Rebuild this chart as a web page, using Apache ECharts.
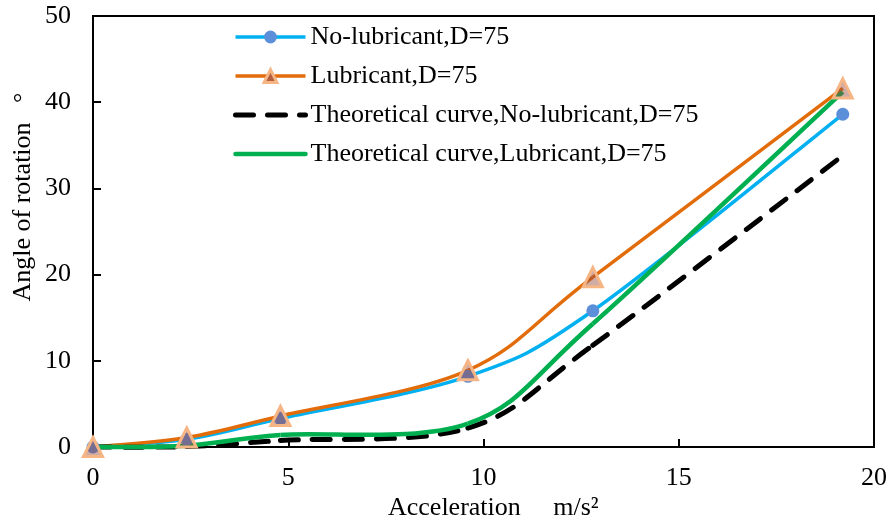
<!DOCTYPE html>
<html>
<head>
<meta charset="utf-8">
<script src="https://cdn.jsdelivr.net/npm/echarts@6/dist/echarts.min.js"></script>
<style>
  html, body { margin: 0; padding: 0; background: #fff; }
  #chart { width: 890px; height: 524px; }
</style>
</head>
<body>
<div id="chart"></div>
<script>
// Acceleration sample points (m/s²)
const acceleration = [0, 2.4, 4.8, 9.6, 12.8, 19.2];

// Measured rotation angles (°)
const noLubricant = [0, 0.9, 3.3, 8.2, 15.8, 38.6];
const lubricant = [0, 1.1, 3.6, 8.9, 19.7, 41.6];

// Theoretical rotation angles (°)
const theoryNoLubricant = [0, 0.05, 0.75, 2.2, 11.8, 33.8];
const theoryLubricant = [0, 0.15, 1.4, 2.7, 14.3, 41.2];

const seriesNames = [
  'No-lubricant,D=75',
  'Lubricant,D=75',
  'Theoretical curve,No-lubricant,D=75',
  'Theoretical curve,Lubricant,D=75'
];

const xTicks = [0, 5, 10, 15, 20];
const yTicks = [0, 10, 20, 30, 40, 50];

const FONT = "'Liberation Serif', 'Times New Roman', serif";

// Line looks
const BLUE = '#00B0F0';
const BLUE_MARK = '#5B8FD9';
const ORANGE = '#E36C0A';
const TRI_FILL = 'rgba(150,70,60,0.45)';
const TRI_BORDER = '#F6B585';
const GREEN = '#00B050';
const DASH = [18, 14];

function pairs(xs, ys) {
  return xs.map((x, i) => [x, ys[i]]);
}

// Smoothed curve through the points: cubic Bezier pieces whose control
// points follow the neighbouring points (Catmull-Rom style, 1/6 weight).
function smoothCurve(id, xs, ys, stroke, width, dash, z) {
  return {
    id: id,
    type: 'custom',
    coordinateSystem: 'cartesian2d',
    data: pairs(xs, ys),
    encode: { x: 0, y: 1 },
    silent: true,
    z: z,
    renderItem: function (params, api) {
      if (params.dataIndexInside !== 0) return null;
      const n = params.dataInsideLength;
      const pts = [];
      for (let i = 0; i < n; i++) {
        pts.push(api.coord([api.value(0, i), api.value(1, i)]));
      }
      const children = [];
      for (let i = 0; i < n - 1; i++) {
        const p0 = pts[Math.max(i - 1, 0)];
        const p1 = pts[i];
        const p2 = pts[i + 1];
        const p3 = pts[Math.min(i + 2, n - 1)];
        children.push({
          type: 'bezierCurve',
          shape: {
            x1: p1[0], y1: p1[1],
            x2: p2[0], y2: p2[1],
            cpx1: p1[0] + (p2[0] - p0[0]) / 6,
            cpy1: p1[1] + (p2[1] - p0[1]) / 6,
            cpx2: p2[0] - (p3[0] - p1[0]) / 6,
            cpy2: p2[1] - (p3[1] - p1[1]) / 6
          },
          style: {
            fill: null,
            stroke: stroke,
            lineWidth: width,
            lineDash: dash || null,
            lineCap: dash ? 'round' : 'butt'
          }
        });
      }
      return { type: 'group', children: children };
    }
  };
}

const chart = echarts.init(document.getElementById('chart'), null, { renderer: 'canvas' });

const option = {
  backgroundColor: '#ffffff',
  animation: false,
  textStyle: { fontFamily: FONT, color: '#000' },
  grid: {
    left: 93, right: 16, top: 16, bottom: 77,
    show: true, borderColor: '#000', borderWidth: 2, backgroundColor: 'transparent'
  },
  legend: {
    orient: 'vertical',
    left: 228,
    top: 19,
    itemWidth: 70,
    itemHeight: 16,
    itemGap: 13,
    textStyle: { fontFamily: FONT, fontSize: 26, color: '#000' },
    data: [
      {
        name: seriesNames[0],
        lineStyle: { color: BLUE, width: 3.5, type: 'solid', opacity: 1 },
        itemStyle: { color: BLUE_MARK, borderWidth: 0, opacity: 1 }
      },
      {
        name: seriesNames[1],
        lineStyle: { color: ORANGE, width: 3.5, type: 'solid', opacity: 1 },
        itemStyle: { color: '#B5603E', borderColor: TRI_BORDER, borderWidth: 3, opacity: 1 }
      },
      {
        name: seriesNames[2],
        lineStyle: { color: '#000', width: 5, type: DASH, cap: 'round', opacity: 1 },
        itemStyle: { opacity: 0 }
      },
      {
        name: seriesNames[3],
        lineStyle: { color: GREEN, width: 4.5, type: 'solid', cap: 'round', opacity: 1 },
        itemStyle: { opacity: 0 }
      }
    ]
  },
  xAxis: {
    type: 'value',
    min: xTicks[0],
    max: xTicks[xTicks.length - 1],
    interval: 5,
    axisLine: { show: true, lineStyle: { color: '#000', width: 2 } },
    axisTick: { show: true, inside: true, length: 8, lineStyle: { color: '#000', width: 2 } },
    axisLabel: { fontFamily: FONT, fontSize: 26, color: '#000', margin: 18 },
    splitLine: { show: false }
  },
  yAxis: {
    type: 'value',
    min: yTicks[0],
    max: yTicks[yTicks.length - 1],
    interval: 10,
    axisLine: { show: true, lineStyle: { color: '#000', width: 2 } },
    axisTick: { show: true, inside: true, length: 8, lineStyle: { color: '#000', width: 2 } },
    axisLabel: { fontFamily: FONT, fontSize: 26, color: '#000', margin: 22 },
    splitLine: { show: false }
  },
  graphic: [
    {
      type: 'text',
      left: 388,
      top: 495,
      style: {
        text: 'Acceleration     m/s²',
        font: "26px " + FONT,
        fill: '#000'
      }
    },
    {
      type: 'text',
      x: 23,
      y: 197,
      rotation: Math.PI / 2,
      style: {
        text: 'Angle of rotation   °',
        font: "26px " + FONT,
        fill: '#000',
        align: 'center',
        verticalAlign: 'middle'
      }
    }
  ],
  series: [
    // Curves
    smoothCurve('curve-no-lub', acceleration, noLubricant, BLUE, 3.5, null, 2),
    smoothCurve('curve-lub', acceleration, lubricant, ORANGE, 3.5, null, 2),
    smoothCurve('curve-theory-no-lub', acceleration, theoryNoLubricant, '#000', 5, DASH, 2),
    smoothCurve('curve-theory-lub', acceleration, theoryLubricant, GREEN, 4.5, null, 2),
    // Point markers (and legend entries)
    {
      name: seriesNames[0],
      type: 'line',
      data: pairs(acceleration, noLubricant),
      symbol: 'circle',
      symbolSize: 13,
      lineStyle: { color: BLUE, width: 0, opacity: 0 },
      itemStyle: { color: BLUE_MARK, borderWidth: 0 },
      z: 3
    },
    {
      name: seriesNames[1],
      type: 'line',
      data: pairs(acceleration, lubricant),
      symbol: 'triangle',
      symbolSize: 19,
      lineStyle: { color: ORANGE, width: 0, opacity: 0 },
      itemStyle: { color: TRI_FILL, borderColor: TRI_BORDER, borderWidth: 3 },
      z: 4
    },
    {
      name: seriesNames[2],
      type: 'line',
      data: pairs(acceleration, theoryNoLubricant),
      symbol: 'none',
      lineStyle: { color: '#000', width: 0, opacity: 0 },
      itemStyle: { color: '#000' },
      z: 3
    },
    {
      name: seriesNames[3],
      type: 'line',
      data: pairs(acceleration, theoryLubricant),
      symbol: 'none',
      lineStyle: { color: GREEN, width: 0, opacity: 0 },
      itemStyle: { color: GREEN },
      z: 3
    }
  ]
};

chart.setOption(option);
</script>
</body>
</html>
